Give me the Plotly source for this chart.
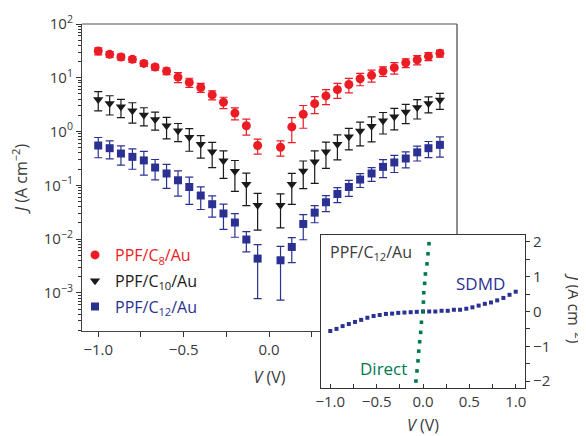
import plotly.graph_objects as go

# ---------------- data ----------------
V = [-1.0, -0.933, -0.867, -0.8, -0.733, -0.667, -0.6, -0.533, -0.467, -0.4,
     -0.333, -0.267, -0.2, -0.133, -0.067, 0.067, 0.133, 0.2, 0.267, 0.333,
     0.4, 0.467, 0.533, 0.6, 0.667, 0.733, 0.8, 0.867, 0.933, 1.0]

J_C8 = [31.4, 27.3, 24.3, 22.0, 18.5, 15.8, 13.3, 10.3, 8.2, 6.6, 4.8, 3.5, 2.2, 1.28, 0.55,
        0.51, 1.22, 2.1, 3.3, 4.6, 6.0, 7.5, 9.6, 11.1, 13.3, 15.4, 19.0, 21.6, 25.0, 28.5]
err_C8 = [4.7, 3.3, 2.9, 2.6, 2.2, 1.9, 1.9, 2.2, 1.6, 1.25, 0.91, 0.84, 0.55, 0.42, 0.17,
          0.16, 0.60, 0.95, 1.15, 1.43, 1.86, 2.25, 2.5, 2.8, 2.7, 3.7, 3.6, 4.3, 4.25, 4.3]

J_C10 = [3.96, 3.33, 2.88, 2.43, 2.02, 1.68, 1.28, 1.03, 0.78, 0.58, 0.42, 0.285, 0.183, 0.105, 0.0427,
         0.0427, 0.105, 0.185, 0.273, 0.42, 0.58, 0.80, 1.02, 1.26, 1.58, 1.88, 2.30, 2.81, 3.33, 3.85]
err_C10 = [1.54, 1.3, 1.07, 1.0, 0.75, 0.62, 0.55, 0.38, 0.35, 0.26, 0.206, 0.151, 0.106, 0.063, 0.028,
           0.0265, 0.061, 0.098, 0.164, 0.214, 0.284, 0.344, 0.48, 0.62, 0.68, 0.81, 0.9, 1.1, 1.1, 1.27]

J_C12 = [0.55, 0.49, 0.39, 0.338, 0.29, 0.214, 0.166, 0.124, 0.093, 0.0645, 0.0445, 0.0299, 0.0203, 0.0098, 0.00433,
         0.00403, 0.00713, 0.0191, 0.031, 0.0484, 0.069, 0.093, 0.128, 0.166, 0.22, 0.266, 0.315, 0.41, 0.49, 0.565]
err_C12 = [0.225, 0.181, 0.152, 0.139, 0.136, 0.088, 0.078, 0.061, 0.049, 0.029, 0.019, 0.0147, 0.0095, 0.004, 0.00355,
           0.0033, 0.0035, 0.0094, 0.0109, 0.016, 0.0214, 0.0307, 0.037, 0.048, 0.081, 0.093, 0.104, 0.127, 0.162, 0.232]

# inset: SDMD simulation and direct tunnelling (linear J axis)
V_sdmd = [-1.0, -0.933, -0.867, -0.8, -0.733, -0.667, -0.6, -0.533, -0.467, -0.4, -0.333, -0.267, -0.2,
          -0.133, -0.067, 0.0, 0.067, 0.133, 0.2, 0.267, 0.333, 0.4, 0.467, 0.533, 0.6, 0.667, 0.733,
          0.8, 0.867, 0.933, 1.0]
J_sdmd = [-0.56, -0.50, -0.42, -0.36, -0.30, -0.24, -0.18, -0.13, -0.10, -0.07, -0.06, -0.04, -0.03,
          -0.02, -0.01, 0.0, 0.0, 0.0, 0.02, 0.02, 0.05, 0.05, 0.08, 0.12, 0.17, 0.22, 0.26,
          0.32, 0.39, 0.48, 0.57]

V_direct = [-0.076, -0.065, -0.054, -0.046, -0.036, -0.025, -0.017, 0.0, 0.004, 0.008, 0.018,
            0.026, 0.043, 0.054, 0.065]
J_direct = [-2.0, -1.71, -1.42, -1.14, -0.87, -0.6, -0.31, 0.0, 0.27, 0.54, 0.81,
            1.08, 1.37, 1.66, 1.95]

y_tickvals = [1e-3, 1e-2, 1e-1, 1e0, 1e1, 1e2]
y_ticktext = ["10<sup>\u22123</sup>", "10<sup>\u22122</sup>", "10<sup>\u22121</sup>",
              "10<sup>0</sup>", "10<sup>1</sup>", "10<sup>2</sup>"]
y_minor = [m * 10.0 ** e for e in range(-4, 2) for m in range(2, 10)]

RED = "#ec1c24"
BLACK = "#1a1a1a"
BLUE = "#2b3192"
GREEN = "#00784f"
TXT = "#3a3a3a"
FONT = "Open Sans"

# the page body has an 8 px margin; size the figure so it ends at the window edge
OFF = 8
W, H = 586 - OFF, 436 - OFF
def px_x(a, b):
    return [(a - OFF) / W, (b - OFF) / W]
def px_y(top, bottom):
    return [1 - (bottom - OFF) / H, 1 - (top - OFF) / H]
def pxx(a):
    return (a - OFF) / W
def pxy(a):
    return 1 - (a - OFF) / H

fig = go.Figure()

series = [
    ("C8", J_C8, err_C8, RED, "circle", 9, "PPF/C<sub>8</sub>/Au"),
    ("C10", J_C10, err_C10, BLACK, "triangle-down", 9, "PPF/C<sub>10</sub>/Au"),
    ("C12", J_C12, err_C12, BLUE, "square", 8, "PPF/C<sub>12</sub>/Au"),
]
for key, J, err, col, sym, sz, name in series:
    fig.add_trace(go.Scatter(
        x=V, y=J, mode="markers",
        marker=dict(symbol=sym, size=sz, color=col, line=dict(width=0)),
        error_y=dict(type="data", array=err, visible=True, color=col, thickness=1.2, width=4),
        name=f'<span style="color:{col}">{name}</span>',
        legendgroup=key, xaxis="x", yaxis="y"))

fig.add_trace(go.Scatter(
    x=V_sdmd, y=J_sdmd, mode="markers",
    marker=dict(symbol="square", size=4, color=BLUE, line=dict(width=0)),
    showlegend=False, xaxis="x2", yaxis="y2"))
fig.add_trace(go.Scatter(
    x=V_direct, y=J_direct, mode="markers",
    marker=dict(symbol="square", size=3.6, color=GREEN, line=dict(width=0)),
    showlegend=False, xaxis="x2", yaxis="y2"))

axis_common = dict(showgrid=False, zeroline=False, showline=True, linewidth=1.2,
                   automargin=False,
                   tickfont=dict(family=FONT, size=15, color=TXT))

fig.update_layout(
    width=W, height=H,
    margin=dict(l=0, r=0, t=0, b=0, autoexpand=False),
    paper_bgcolor="white", plot_bgcolor="white",
    font=dict(family=FONT, size=15, color=TXT),
    showlegend=True,
    legend=dict(x=pxx(75), y=pxy(238), xanchor="left", yanchor="top",
                bgcolor="rgba(0,0,0,0)", font=dict(family=FONT, size=16),
                tracegroupgap=2, itemwidth=30),
    xaxis=dict(domain=px_x(82, 457), anchor="y", range=[-1.095, 1.10],
               tick0=0, dtick=0.5, tickformat=".1f", ticks="outside", ticklen=5,
               tickcolor="#333", linecolor="#444", mirror=False,
               minor=dict(dtick=0.25, ticks="outside", ticklen=5, tickcolor="#333"),
               title=dict(text="<i>V</i> (V)", font=dict(family=FONT, size=16, color=TXT), standoff=13),
               **axis_common),
    yaxis=dict(domain=px_y(24, 331), anchor="x", type="log", range=[-3.71, 2.0],
               tickvals=y_tickvals, ticktext=y_ticktext, ticks="outside", ticklen=5,
               tickcolor="#333", linecolor="#444", mirror=False,
               minor=dict(tickvals=y_minor, ticks="outside", ticklen=3, tickcolor="#333"),
               title=dict(text="<i>J</i> (A cm<sup>\u22122</sup>)", font=dict(family=FONT, size=16, color=TXT), standoff=16),
               **axis_common),
    xaxis2=dict(domain=px_x(321, 525), anchor="y2", range=[-1.1, 1.1],
                tick0=0, dtick=0.5, tickformat=".1f", ticks="inside", ticklen=4,
                tickcolor="#333", linecolor="#333", mirror=True,
                minor=dict(dtick=0.25, ticks="inside", ticklen=4, tickcolor="#333"),
                title=dict(text="<i>V</i> (V)", font=dict(family=FONT, size=16, color=TXT), standoff=11),
                **axis_common),
    yaxis2=dict(domain=px_y(235, 388), anchor="x2", side="right", range=[-2.2, 2.2],
                tick0=0, dtick=1, ticks="outside", ticklen=4,
                tickcolor="#333", linecolor="#333", mirror=True,
                minor=dict(dtick=0.5, ticks="outside", ticklen=4, tickcolor="#333"),
                **axis_common),
    shapes=[
        # frame of the main panel: top (grey) and right edges
        dict(type="line", xref="x domain", yref="y domain", x0=0, x1=1, y0=1, y1=1,
             line=dict(color="#8a8a8a", width=1.5), layer="below"),
        dict(type="line", xref="x domain", yref="y domain", x0=1, x1=1, y0=0, y1=1,
             line=dict(color="#444", width=1.2), layer="below"),
    ],
    annotations=[
        dict(text="PPF/C<sub>12</sub>/Au", x=-1.02, y=1.70, xref="x2", yref="y2",
             xanchor="left", yanchor="middle", showarrow=False,
             font=dict(family=FONT, size=16, color=TXT)),
        dict(text="SDMD", x=0.62, y=0.80, xref="x2", yref="y2",
             xanchor="center", yanchor="middle", showarrow=False,
             font=dict(family=FONT, size=17, color=BLUE)),
        dict(text="Direct", x=-0.43, y=-1.65, xref="x2", yref="y2",
             xanchor="center", yanchor="middle", showarrow=False,
             font=dict(family=FONT, size=17, color=GREEN)),
        dict(text="<i>J</i> (A cm<sup>\u22122</sup>)", x=pxx(575), y=pxy(308),
             xref="paper", yref="paper", xanchor="center", yanchor="middle",
             textangle=90, showarrow=False, font=dict(family=FONT, size=16, color=TXT)),
    ],
)

fig.write_html("out.html")
